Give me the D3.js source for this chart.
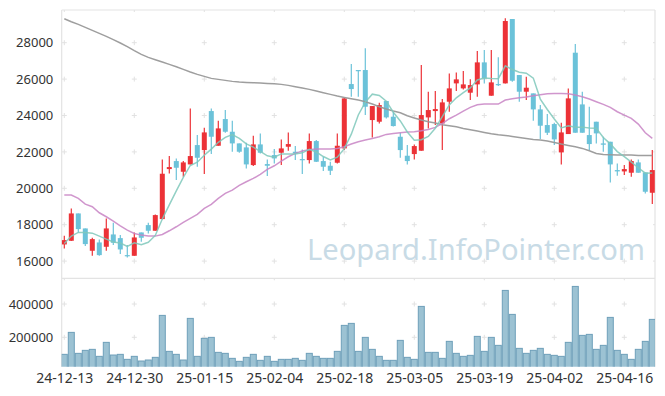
<!DOCTYPE html>
<html><head><meta charset="utf-8">
<script src="https://cdn.jsdelivr.net/npm/d3@7"></script>
<style>body{margin:0;background:#fff;} svg{display:block;}</style>
</head><body><svg id="c" width="665" height="396"></svg>
<script>
const dates = ["24-12-13","24-12-16","24-12-17","24-12-18","24-12-19","24-12-20","24-12-23","24-12-24","24-12-26","24-12-27",
"24-12-30","25-01-02","25-01-03","25-01-06","25-01-07","25-01-08","25-01-09","25-01-10","25-01-13","25-01-14",
"25-01-15","25-01-16","25-01-17","25-01-20","25-01-21","25-01-22","25-01-23","25-01-24","25-01-31","25-02-03",
"25-02-04","25-02-05","25-02-06","25-02-07","25-02-10","25-02-11","25-02-12","25-02-13","25-02-14","25-02-17",
"25-02-18","25-02-19","25-02-20","25-02-21","25-02-24","25-02-25","25-02-26","25-02-27","25-02-28","25-03-04",
"25-03-05","25-03-06","25-03-07","25-03-10","25-03-11","25-03-12","25-03-13","25-03-14","25-03-17","25-03-18",
"25-03-19","25-03-20","25-03-21","25-03-24","25-03-25","25-03-26","25-03-27","25-03-28","25-03-31","25-04-01",
"25-04-02","25-04-03","25-04-04","25-04-07","25-04-08","25-04-09","25-04-10","25-04-11","25-04-14","25-04-15",
"25-04-16","25-04-17","25-04-18","25-04-21","25-04-22"];

const open = [16915,17117,18619,17795,16567,17025,16787,17465,17263,16329,
16292,17575,17978,17667,18308,21056,21496,20909,21313,22375,
22100,24244,22338,23804,23108,22467,22247,21276,22412,21331,
21826,21954,22284,22009,21606,21551,22595,21496,21239,21404,
22192,25728,26498,26498,23749,23658,24794,23933,22833,21789,
21881,22064,23896,24244,23566,24757,25765,25490,25252,25710,
26919,25087,25728,25765,29301,26223,25307,25215,24336,23475,
23530,21972,22980,27450,24610,22925,23658,22467,22558,21001,
20928,20855,21423,20873,19755];
const high = [17392,18894,18619,17795,17282,17190,18344,18106,17428,16879,
17575,17575,18106,18565,21587,21771,21642,21496,24391,22925,
23328,24391,23713,24299,23713,22467,22503,22888,23017,21587,
22155,22687,23071,22320,22137,23017,22650,21734,21459,23017,
24960,26827,26498,27689,24519,24702,24794,24207,23053,22375,
22412,26772,25307,25343,24900,26314,26369,26443,25985,27542,
27597,27597,27194,29337,29301,26223,26131,25215,24574,24079,
23603,23603,25490,27927,25307,24482,23658,22833,22558,21368,
21276,21587,21587,20873,22100];
const low = [16695,17100,17575,16824,16292,16300,16567,16879,16384,16201,
16292,17062,17520,17667,18300,20818,20451,20635,21313,21184,
20781,21881,22338,23050,22009,21954,21093,21221,21917,20671,
21368,21276,22064,21551,20781,21368,21440,20946,20726,21368,
22100,25032,25032,24024,22797,23566,23841,23400,21679,21313,
21587,22064,23291,23475,22100,24207,25343,25435,24849,25032,
25765,25087,25618,25765,25856,24757,24849,23713,22705,22925,
22375,21313,22980,23053,23053,22100,22467,22009,20323,20690,
20726,20635,20855,19719,19132];
const close = [17153,18619,17758,16934,17208,16329,17795,17007,16640,16274,
17300,17282,17667,18528,20800,21166,21129,21423,21771,21679,
23071,22833,23291,23108,22467,22009,21313,22412,21954,21239,
21642,22192,22430,21917,21569,22595,21459,21184,20964,22338,
24940,25453,26461,24482,24519,24574,23896,23420,22100,21496,
22320,24024,24299,24354,24720,25490,25985,25710,25673,26919,
26040,25820,25673,29191,25911,25307,25527,24336,23438,23053,
22687,23071,24940,23053,23053,22430,23017,22394,21313,20928,
21056,21496,20855,19810,21001];
const volume = [97600,229600,103600,121600,127600,85600,169600,93600,97600,67600,
85600,57600,63600,79600,331600,115600,97600,63600,313600,85600,
193600,199600,109600,103600,73600,55600,79600,97600,61600,85600,
55600,67600,67600,73600,61600,103600,85600,73600,73600,115600,
271600,283600,115600,199600,127600,85600,61600,61600,181600,79600,
67600,385600,109600,109600,73600,175600,103600,85600,91600,205600,
115600,199600,151600,481600,337600,133600,103600,121600,133600,97600,
91600,85600,169600,505600,211600,217600,127600,151600,319600,121600,
97600,67600,127600,175600,307600];
const ma5 = [16970,17374,17575,17575,17534,17370,17205,17055,16996,16809,
17003,16901,17033,17410,18312,19085,19854,20605,21254,21434,
21815,22155,22529,22796,22954,22742,22438,22262,22031,21785,
21712,21888,21891,21884,21950,22141,21994,21745,21554,21708,
22177,22976,24031,24735,25171,25098,24786,24178,23702,23097,
22646,22672,22848,23299,23944,24578,24970,25252,25516,25955,
26065,26032,26025,26729,26527,26380,26322,26054,24904,24332,
23808,23317,23438,23361,23361,23309,23299,22789,22441,22016,
21742,21437,21130,20829,20844];
const ma20 = [19627,19627,19444,19132,18986,18656,18436,18198,17941,17703,
17520,17428,17373,17373,17465,17666,17886,18124,18344,18564,
18894,19114,19444,19718,19902,20158,20360,20543,20763,21038,
21239,21496,21734,21917,22045,22119,22155,22155,22155,22192,
22284,22430,22558,22650,22742,22833,22961,23016,23053,23090,
23108,23163,23236,23346,23548,23823,24024,24244,24446,24592,
24629,24629,24629,24849,24922,24977,25014,25087,25142,25197,
25215,25215,25197,25123,25032,24904,24757,24610,24446,24207,
24024,23841,23529,23053,22742];
const ma120 = [29319,29154,29008,28843,28678,28513,28348,28165,27982,27780,
27560,27359,27194,27066,26937,26809,26681,26534,26388,26259,
26149,26040,25985,25930,25875,25838,25820,25801,25783,25765,
25746,25710,25655,25582,25508,25435,25343,25252,25160,25068,
24995,24922,24849,24757,24629,24482,24354,24244,24152,23988,
23859,23749,23658,23584,23493,23438,23383,23291,23218,23145,
23071,22998,22943,22907,22852,22797,22742,22687,22650,22595,
22522,22430,22357,22284,22192,22064,21917,21862,21844,21826,
21826,21826,21807,21807,21807];
const xTickLabels = ["24-12-13","24-12-30","25-01-15","25-02-04","25-02-18","25-03-05","25-03-19","25-04-02","25-04-16"];
const priceTicks = [16000,18000,20000,22000,24000,26000,28000];
const volumeTicks = [200000,400000];
const watermark = "Leopard.InfoPointer.com";

const svg = d3.select("#c");
const L = 61.7, R = 655, T = 10, MB = 278.3, VB = 366.7;
const x = d3.scalePoint().domain(dates).range([64.3, 652.3]);
const y = d3.scaleLinear().domain([16000, 28000]).range([261.1, 42.7]);
const yv = d3.scaleLinear().domain([0, 400000]).range([370.6, 304]);
const step = x.step();

const defs = svg.append("defs");
defs.append("clipPath").attr("id","cm").append("rect").attr("x",L).attr("y",T).attr("width",R-L).attr("height",MB-T);
defs.append("clipPath").attr("id","cv").append("rect").attr("x",L).attr("y",MB).attr("width",R-L).attr("height",VB-MB);

const gridC = "#e2e2e2";
// grid plus marks
const gp = svg.append("g").attr("stroke",gridC).attr("stroke-width",1);
xTickLabels.forEach(d => {
  const px = x(d);
  [...priceTicks.map(v=>y(v)), ...volumeTicks.map(v=>yv(v))].forEach(py => {
    gp.append("line").attr("x1",px-2.5).attr("x2",px+2.5).attr("y1",py).attr("y2",py);
    gp.append("line").attr("x1",px).attr("x2",px).attr("y1",py-2.5).attr("y2",py+2.5);
  });
  gp.append("line").attr("x1",px).attr("x2",px).attr("y1",T).attr("y2",T+2);
  gp.append("line").attr("x1",px).attr("x2",px).attr("y1",MB).attr("y2",MB+2);
});
priceTicks.forEach(v => gp.append("line").attr("x1",R-2).attr("x2",R).attr("y1",y(v)).attr("y2",y(v)));

// watermark (font size fitted to the reference width, no glyph stretching)
const wm = svg.append("text").attr("x",645).attr("y",260).attr("text-anchor","end")
  .attr("font-family","'Noto Sans', 'Open Sans', sans-serif").attr("font-size",32)
  .attr("fill","#c8dbe6").text(watermark);
const wmW = wm.node().getComputedTextLength();
if (wmW > 0) wm.attr("font-size", 32 * 338 / wmW);

// frame
const fr = svg.append("g").attr("stroke","#e3e3e3").attr("stroke-width",1.2);
fr.append("line").attr("x1",L).attr("x2",R).attr("y1",T).attr("y2",T);
fr.append("line").attr("x1",L).attr("x2",R).attr("y1",MB).attr("y2",MB);
fr.append("line").attr("x1",R).attr("x2",R).attr("y1",T).attr("y2",VB);
fr.append("line").attr("x1",L).attr("x2",L).attr("y1",T).attr("y2",VB);

// volume
svg.append("g").attr("clip-path","url(#cv)").selectAll("rect").data(dates).join("rect")
  .attr("x",d => x(d)-step/2+0.5).attr("width",step-1)
  .attr("y",(d,i)=>yv(volume[i])).attr("height",(d,i)=>Math.max(0, VB+2-yv(volume[i])))
  .attr("fill","#9cc2d3").attr("stroke","#6e9fb9").attr("stroke-width",1);

// candles
const up = "#ec3237", down = "#6bc2d9";
const cg = svg.append("g").attr("clip-path","url(#cm)");
const cs = cg.selectAll("g").data(dates).join("g");
cs.append("line").attr("x1",d=>x(d)).attr("x2",d=>x(d))
  .attr("y1",(d,i)=>y(high[i])).attr("y2",(d,i)=>y(low[i]))
  .attr("stroke",(d,i)=>close[i]>=open[i]?up:down).attr("stroke-width",1.2);
cs.append("rect").attr("x",d=>x(d)-2.5).attr("width",5)
  .attr("y",(d,i)=>y(Math.max(open[i],close[i])))
  .attr("height",(d,i)=>Math.max(1.2, Math.abs(y(open[i])-y(close[i]))))
  .attr("fill",(d,i)=>close[i]>=open[i]?up:down);

// MA lines
const line = arr => d3.line().x((d,i)=>x(dates[i])).y(d=>y(d))(arr);
const lg = svg.append("g").attr("clip-path","url(#cm)").attr("fill","none").attr("stroke-width",1.5);
lg.append("path").attr("d",line(ma120)).attr("stroke","#999999").attr("stroke-opacity",0.95);
lg.append("path").attr("d",line(ma20)).attr("stroke","#c884c4").attr("stroke-opacity",0.85);
lg.append("path").attr("d",line(ma5)).attr("stroke","#7fc8bb").attr("stroke-opacity",0.85);

// axes
const font = "'Noto Sans', 'Open Sans', sans-serif";
const ya = svg.append("g").attr("transform",`translate(${L},0)`)
  .call(d3.axisLeft(y).tickValues(priceTicks).tickSize(0).tickPadding(8.4).tickFormat(d3.format("d")));
const yva = svg.append("g").attr("transform",`translate(${L},0)`)
  .call(d3.axisLeft(yv).tickValues(volumeTicks).tickSize(0).tickPadding(8.4).tickFormat(d3.format("d")));
const xa = svg.append("g").attr("transform",`translate(0,${VB})`)
  .call(d3.axisBottom(x).tickValues(xTickLabels).tickSize(0).tickPadding(6));
[ya,yva].forEach(g => { g.select(".domain").remove(); g.selectAll("text").attr("font-family",font).attr("font-size",13).attr("fill","#333"); });
xa.select(".domain").remove();
xa.selectAll("text").attr("font-family",font).attr("font-size",14).attr("fill","#333");
</script></body></html>
